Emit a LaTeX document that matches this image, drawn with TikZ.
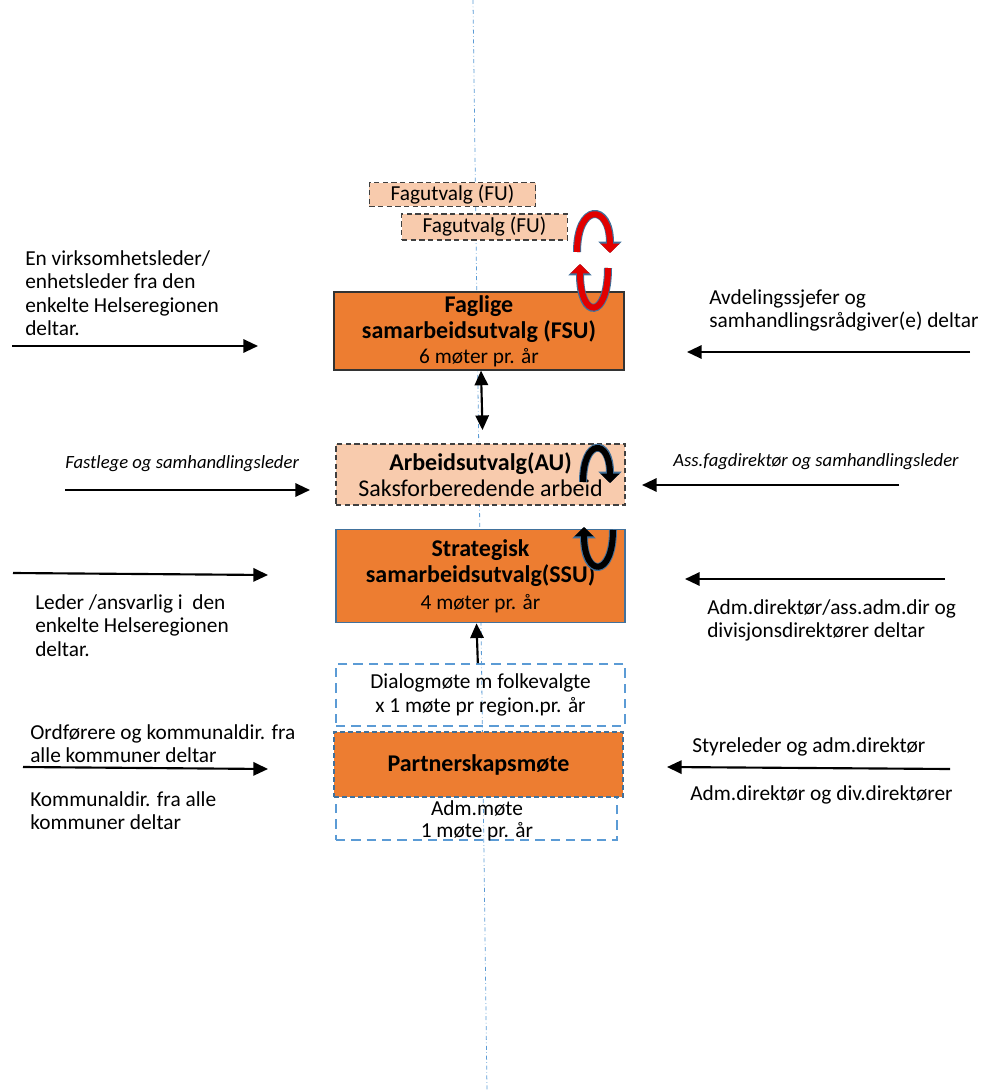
\documentclass[tikz,border=0pt]{standalone}
\usepackage{fontspec}
\setmainfont{Carlito}
\usetikzlibrary{positioning,arrows.meta}
\definecolor{Orange}{RGB}{237,125,49}
\definecolor{Peach}{RGB}{248,203,173}
\definecolor{LineBlue}{RGB}{91,155,213}
\definecolor{EdgeBlue}{RGB}{65,113,156}
\definecolor{SpinRed}{RGB}{225,0,0}

\begin{document}
\begin{tikzpicture}[x=0.75pt,y=-0.75pt]
		\tikzset{Body/.style = {font=\fontsize{16}{17.6}\selectfont, align=left, inner sep=0pt},
		         Hint/.style = {font=\fontsize{14}{16}\selectfont\itshape, inner sep=0pt, anchor=west},
		         Board/.style = {align=center, inner sep=0pt, font=\fontsize{16}{18.5}\selectfont},
		         Draft/.style = {Board, draw=black!75, fill=Peach, dash pattern=on 4pt off 2.5pt, line width=0.9pt},
		         Meet/.style = {Board, draw=LineBlue, dash pattern=on 7pt off 4.5pt, line width=1.3pt},
		         Link/.style = {-{Triangle[length=11pt,width=10pt]}, line width=1.6pt},
		         Spin/.style = {draw=#1, line width=4.5pt, -{Triangle[length=7pt,width=14pt]},
		                        preaction={draw=EdgeBlue, line width=6pt, -{Triangle[length=8.5pt,width=17pt]}}}}
		\useasboundingbox (0,0) rectangle (982,1091);
		% midtlinje
		\coordinate (Top) at (473,0);
		\coordinate (Bottom) at (487,1091);
		\draw[LineBlue, dash dot, line width=0.6pt] (Top) -- (Bottom);
		% fagutvalg
		\node[Draft, minimum width=125pt, minimum height=17.5pt] (FU1) at (452.5,194.5) {Fagutvalg (FU)};
		\node[Draft, minimum width=124pt, minimum height=19.5pt] (FU2) at (484.5,227) {Fagutvalg (FU)};
		% utvalg
		\node[Board, draw=black!80, line width=0.9pt, fill=Orange, minimum width=217.5pt, minimum height=58.5pt] (FSU) at (479,331)
			{\fontsize{18}{21}\selectfont\bfseries Faglige\\[1pt]\fontsize{18}{20}\selectfont\bfseries samarbeidsutvalg (FSU)\\6 møter pr. år};
		\node[Draft, minimum width=216.75pt, minimum height=45.75pt] (AU) at (480.5,474.5)
			{\fontsize{18}{20}\selectfont\bfseries Arbeidsutvalg(AU)\\[1pt]\fontsize{18}{20}\selectfont Saksforberedende arbeid};
		\node[Board, draw=EdgeBlue, line width=1.3pt, fill=Orange, minimum width=216.75pt, minimum height=69.75pt] (SSU) at (480.5,576)
			{\fontsize{18}{21}\selectfont\bfseries Strategisk\\[1.5pt]\fontsize{18}{20}\selectfont\bfseries samarbeidsutvalg(SSU)\\[1.5pt]4 møter pr. år};
		\node[Meet, minimum width=216.75pt, minimum height=46.5pt] (Dialog) at (480.5,695)
			{Dialogmøte m folkevalgte\\x 1 møte pr region.pr. år};
		\node[Meet, minimum width=210.75pt, minimum height=78.75pt] (Adm) at (476.5,787.5) {};
		\node[Board, font=\fontsize{16}{16.5}\selectfont] (AdmText) at (477,821) {Adm.møte\\1 møte pr. år};
		\node[Board, draw=EdgeBlue, fill=Orange, dash pattern=on 4pt off 2pt, line width=1.3pt, minimum width=216.75pt, minimum height=48.75pt] (Partner) at (478.5,764.5)
			{\fontsize{18}{20}\selectfont\bfseries Partnerskapsmøte};
		% sirkelpiler
		\draw[Spin=SpinRed] (577,252) .. controls (577,203) and (610,203) .. (610,253);
		\draw[Spin=SpinRed] (608,268) .. controls (608,320) and (580,320) .. (580,264);
		\draw[Spin=black] (583,482) .. controls (583,438) and (610,438) .. (610,483);
		\draw[Spin=black] (613,530) .. controls (613,578) and (584,578) .. (584,527);
		% piler mellom utvalg
		\draw[Link, {Triangle[length=11pt,width=10pt]}-{Triangle[length=11pt,width=10pt]}] ([xshift=1.5pt]FSU.south) -- ([xshift=1.5pt, yshift=10pt]AU.north);
		\draw[Link] ([xshift=-2pt]Dialog.north) -- ([xshift=-3pt]SSU.south);
		% deltakere venstre
		\node[Body, anchor=north west] (LeftFSU) at (25,250) {En virksomhetsleder/\\enhetsleder fra den\\enkelte Helseregionen\\deltar.};
		\node[Hint] (LeftAU) at (65,464) {Fastlege og samhandlingsleder};
		\node[Body, anchor=north west] (LeftSSU) at (35,594) {Leder /ansvarlig i\ \ den\\enkelte Helseregionen\\deltar.};
		\node[Body, anchor=north west] (LeftPM) at (30,724) {Ordførere og kommunaldir. fra\\alle kommuner deltar};
		\node[Body, anchor=north west] (LeftAdm) at (30,791) {Kommunaldir. fra alle\\kommuner deltar};
		% deltakere høyre
		\node[Body, anchor=north west] (RightFSU) at (709,289) {Avdelingssjefer og\\samhandlingsrådgiver(e) deltar};
		\node[Hint] (RightAU) at (673,462) {Ass.fagdirektør og samhandlingsleder};
		\node[Body, anchor=north west] (RightSSU) at (707,599) {Adm.direktør/ass.adm.dir og\\divisjonsdirektører deltar};
		\node[Body, anchor=west] (RightPM) at (692,747) {Styreleder og adm.direktør};
		\node[Body, anchor=west] (RightAdm) at (690,795) {Adm.direktør og div.direktører};
		% piler inn
		\coordinate (l1) at (12,346);  \coordinate (l1e) at (258,346);
		\coordinate (l2) at (65,490);  \coordinate (l2e) at (310,490);
		\coordinate (l3) at (13,573);  \coordinate (l3e) at (268,575);
		\coordinate (l4) at (23,767);  \coordinate (l4e) at (268,769);
		\coordinate (r1) at (970,352); \coordinate (r1e) at (687,352);
		\coordinate (r2) at (899,485); \coordinate (r2e) at (642,485);
		\coordinate (r3) at (945,579); \coordinate (r3e) at (685,579);
		\coordinate (r4) at (950,769); \coordinate (r4e) at (667,767);
		\foreach \a in {l1,l2,l3,l4,r1,r2,r3,r4}
			\draw[Link] (\a) -- (\a e);
	\end{tikzpicture}
\end{document}
